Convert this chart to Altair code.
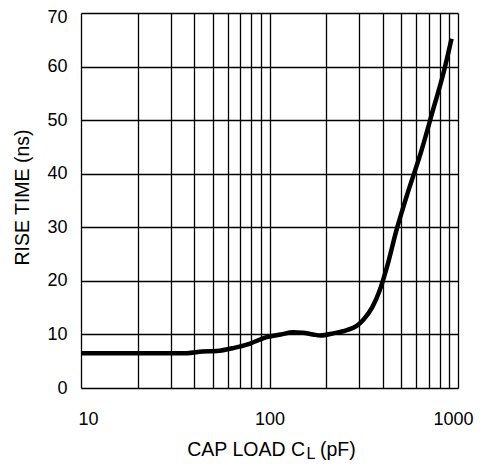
import altair as alt
import pandas as pd

cap_load = [10, 20, 30, 36.5, 44, 52.5, 65, 79, 96.7, 115, 133, 150, 170, 186, 218, 257, 290, 314, 350, 385, 420, 472, 533, 641, 737, 836, 924]
rise_time = [6.5, 6.5, 6.5, 6.5, 6.8, 6.9, 7.5, 8.3, 9.5, 10.0, 10.4, 10.3, 10.0, 9.8, 10.2, 10.8, 11.6, 12.7, 15.0, 18.3, 22.6, 29.5, 35.7, 44.4, 51.9, 58.7, 65.2]

x_grid = [10, 20, 30, 40, 50, 60, 70, 80, 90, 100, 200, 300, 400, 500, 600, 700, 800, 900, 1000]
y_ticks = [0, 10, 20, 30, 40, 50, 60, 70]
x_title_parts = ["CAP LOAD C", "L", "(pF)"]

df = pd.DataFrame({"x": cap_load, "y": rise_time})

FONT = "Liberation Sans"
W, H = 377, 375

line = alt.Chart(df).mark_line(color="black", strokeWidth=4.5, interpolate="monotone").encode(
    x=alt.X("x:Q",
            scale=alt.Scale(type="log", domain=[10, 1000], nice=False),
            axis=alt.Axis(values=x_grid, format="d",
                          labelExpr="(datum.value == 10 || datum.value == 100 || datum.value == 1000) ? datum.label : ''",
                          labelOffset={"condition": [{"test": "datum.value == 10", "value": 7},
                                                     {"test": "datum.value == 1000", "value": -5}], "value": 0},
                          grid=True, gridColor="black", gridWidth=1.3, gridOpacity=1,
                          ticks=False, domain=False, labelPadding=22,
                          labelFont=FONT, labelFontSize=18, labelColor="black",
                          labelFlush=False, title=None)),
    y=alt.Y("y:Q",
            scale=alt.Scale(domain=[0, 70], nice=False),
            axis=alt.Axis(values=y_ticks, grid=True, gridColor="black", gridWidth=1.3, gridOpacity=1,
                          ticks=False, domain=False, labelPadding=14,
                          labelOffset={"condition": {"test": "datum.value == 70", "value": 4.5}, "value": 0},
                          labelFont=FONT, labelFontSize=18, labelColor="black",
                          title="RISE TIME (ns)", titleFont=FONT, titleFontSize=19.5,
                          titleFontWeight="normal", titleColor="black",
                          titleX=-53, titleY=184, titleAngle=-90,
                          titleAlign="center", titleBaseline="alphabetic")),
)

base = alt.Chart(pd.DataFrame({"t": [0]}))
t1 = base.mark_text(text=x_title_parts[0], font=FONT, fontSize=19.5, align="right", baseline="alphabetic", color="black").encode(
    x=alt.value(224), y=alt.value(443))
t2 = base.mark_text(text=x_title_parts[1], font=FONT, fontSize=16, align="left", baseline="alphabetic", color="black").encode(
    x=alt.value(225.5), y=alt.value(446))
t3 = base.mark_text(text=x_title_parts[2], font=FONT, fontSize=19.5, align="left", baseline="alphabetic", color="black").encode(
    x=alt.value(239), y=alt.value(443))

chart = alt.layer(line, t1, t2, t3).properties(
    width=W, height=H,
    autosize=alt.AutoSizeParams(type="none"),
    padding={"left": 73, "top": 5, "right": 16, "bottom": 74},
).configure_view(stroke="black", strokeWidth=2).configure(background="white")

chart.save("out.html", embed_options={"renderer": "svg", "actions": False})
